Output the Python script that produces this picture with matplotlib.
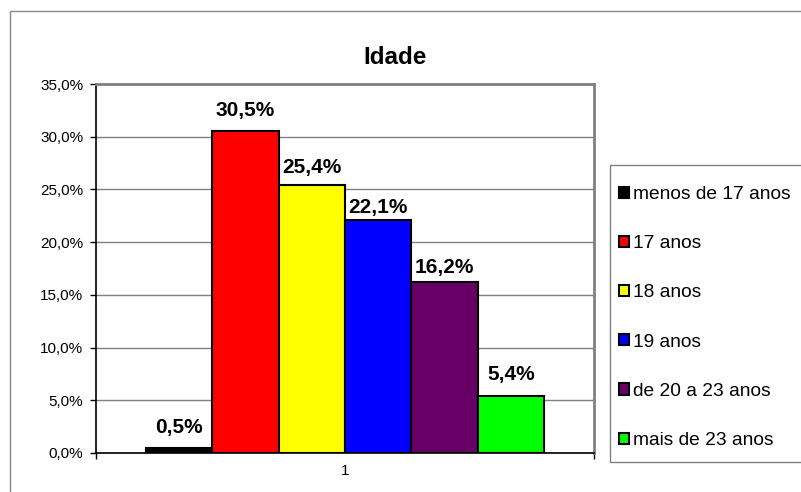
import matplotlib
matplotlib.use('Agg')
import matplotlib.pyplot as plt
from matplotlib.patches import Rectangle
import numpy as np

# ---- data ----
title = "Idade"
categories = ["menos de 17 anos", "17 anos", "18 anos", "19 anos",
              "de 20 a 23 anos", "mais de 23 anos"]
values = [0.5, 30.5, 25.4, 22.1, 16.2, 5.4]
group_label = "1"
yticks = [0, 5, 10, 15, 20, 25, 30, 35]

# ---- styles ----
colors = ['#000000', '#FF0000', '#FFFF00', '#0000FF', '#660066', '#00FF00']
label_gap_px = [15, 15, 12.7, 6.7, 9, 16]

plt.rcParams['font.family'] = ['Liberation Sans', 'DejaVu Sans']

W, H = 801, 492
fig = plt.figure(figsize=(W / 100, H / 100), dpi=100)
ax = fig.add_axes([96 / W, 1 - 453 / H, 498 / W, 369 / H])

n = len(values)
pos = np.arange(n) - (n - 1) / 2
handles = []
for p, v, c, lab in zip(pos, values, colors, categories):
    b = ax.bar(p, v, width=1.0, color=c, edgecolor='black', linewidth=1.5,
               label=lab, zorder=3)
    handles.append(b)

for p, v, g in zip(pos, values, label_gap_px):
    ax.annotate(f"{v:.1f}%".replace('.', ','), xy=(p, v),
                xytext=(0, g * 0.72), textcoords='offset points',
                ha='center', va='baseline', fontsize=15, fontweight='bold',
                zorder=4)

ax.set_xlim(-3.75, 3.75)
ax.set_ylim(0, 35)
ax.set_yticks(yticks, labels=[f"{t:.1f}%".replace('.', ',') for t in yticks])
ax.yaxis.grid(True, color='#808080', linewidth=1)
ax.set_axisbelow(True)

ax.set_xticks([0], labels=[group_label])
ax.set_xticks([-3.75, 3.75], minor=True)
ax.tick_params(axis='x', which='major', length=0, pad=8, labelsize=11)
ax.tick_params(axis='x', which='minor', length=4.3, width=1, color='black',
               direction='out')
ax.tick_params(axis='y', length=4.3, width=1, direction='out', pad=5,
               labelsize=11)

for s in ['left', 'bottom']:
    ax.spines[s].set_color('black')
    ax.spines[s].set_linewidth(1.2)
for s in ['top', 'right']:
    ax.spines[s].set_color('#808080')
    ax.spines[s].set_linewidth(2)

# outer chart border
fig.add_artist(Rectangle((9.5 / W, -0.1), 1.2, 1 - 11 / H + 0.1,
                         transform=fig.transFigure, fill=False,
                         edgecolor='#888888', linewidth=1))

# legend box
fig.add_artist(Rectangle((610 / W, 1 - 462 / H), 0.3, (462 - 165) / H,
                         transform=fig.transFigure, fill=False,
                         edgecolor='#808080', linewidth=1))

fs = 13.8
fpx = fs * 100 / 72
fig.legend(handles, categories, loc='upper left',
           bbox_to_anchor=(619 / W, 1 - 186 / H), bbox_transform=fig.transFigure,
           frameon=False, borderpad=0, borderaxespad=0, fontsize=fs,
           handlelength=10 / fpx, handleheight=10 / fpx,
           handletextpad=4 / fpx, labelspacing=1.68)

fig.text(395 / W, 1 - 57 / H, title, ha='center', va='center',
         fontsize=17.5, fontweight='bold')

fig.savefig('out.png', dpi=100)
